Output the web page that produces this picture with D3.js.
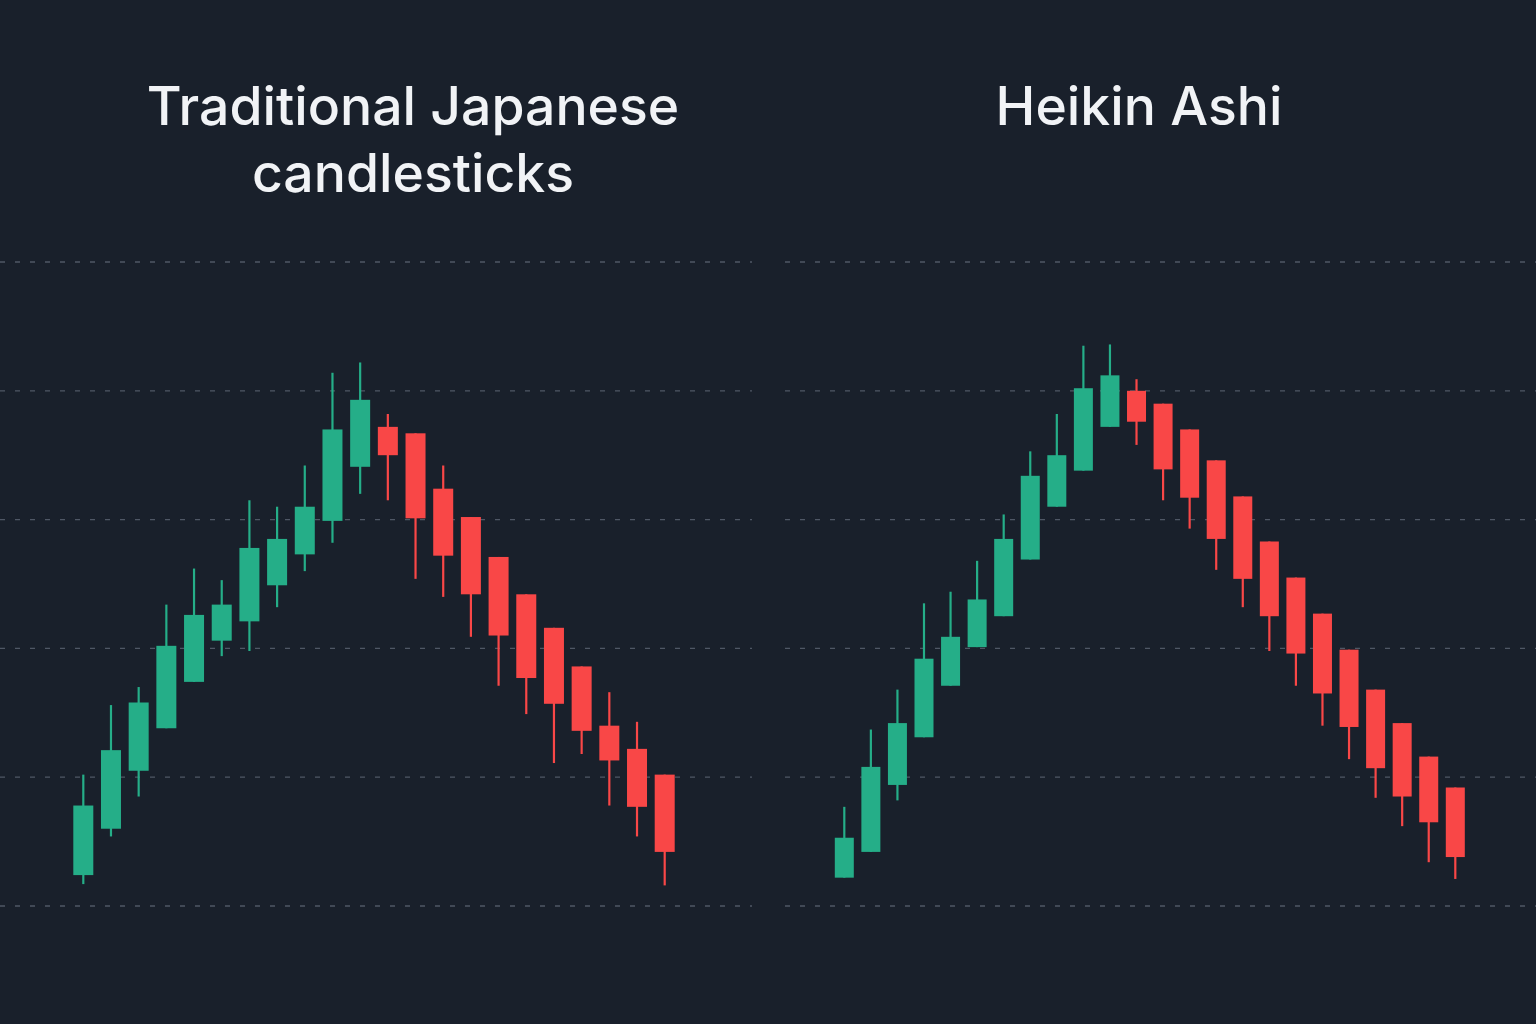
<!DOCTYPE html>
<html lang="en">
<head>
    <meta charset="UTF-8">
    <title>Traditional vs Heikin Ashi</title>
    <style>
        body {
            margin: 0;
            background: #19202b;
        }
        svg {
            display: block;
        }
        .title {
            font-family: Inter, "Noto Sans", sans-serif;
            font-size: 53.5px;
            font-weight: 500;
            fill: #f1f3f6;
        }
    </style>
</head>
<body>
<div id="chart"></div>

<script src="https://cdn.jsdelivr.net/npm/d3@7"></script>
<script>
    // price levels for the dashed grid
    const gridLevels = [100, 110, 120, 130, 140, 150];

    // traditional candles
    const tradOpen  = [102.4, 106.0, 110.5, 113.8, 117.4, 120.6, 122.1, 124.9, 127.3, 129.9, 134.1,
                       137.2, 136.7, 132.4, 130.2, 127.1, 124.2, 121.6, 118.6, 114.0, 112.2, 110.2];
    const tradHigh  = [110.2, 115.6, 117.0, 123.4, 126.2, 125.3, 131.5, 131.0, 134.2, 141.4, 142.2,
                       138.2, 136.7, 134.2, 130.2, 127.1, 124.2, 121.6, 118.6, 116.6, 114.3, 110.2];
    const tradLow   = [101.7, 105.4, 108.5, 113.8, 117.4, 119.4, 119.8, 123.2, 126.0, 128.2, 132.0,
                       131.5, 125.4, 124.0, 120.9, 117.1, 114.9, 111.1, 111.8, 107.8, 105.4, 101.6];
    const tradClose = [107.8, 112.1, 115.8, 120.2, 122.6, 123.4, 127.8, 128.5, 131.0, 137.0, 139.3,
                       135.0, 130.1, 127.2, 124.2, 121.0, 117.7, 115.7, 113.6, 111.3, 107.7, 104.2];

    // heikin ashi candles
    const haOpen  = [102.2, 104.2, 109.4, 113.1, 117.1, 120.1, 122.5, 126.9, 131.0, 133.8, 137.2,
                     140.0, 139.0, 137.0, 134.6, 131.8, 128.3, 125.5, 122.7, 119.9, 116.8, 114.2, 111.6, 109.2];
    const haHigh  = [107.7, 113.7, 116.8, 123.5, 124.4, 126.8, 130.4, 135.3, 138.2, 143.5, 143.6,
                     140.9, 139.0, 137.0, 134.6, 131.8, 128.3, 125.5, 122.7, 119.9, 116.8, 114.2, 111.6, 109.2];
    const haLow   = [102.2, 104.2, 108.2, 113.1, 117.1, 120.1, 122.5, 126.9, 131.0, 133.8, 137.2,
                     135.8, 131.5, 129.3, 126.1, 123.2, 119.8, 117.1, 114.0, 111.4, 108.4, 106.2, 103.4, 102.1];
    const haClose = [105.3, 110.8, 114.2, 119.2, 120.9, 123.8, 128.5, 133.4, 135.0, 140.2, 141.2,
                     137.6, 133.9, 131.7, 128.5, 125.4, 122.5, 119.6, 116.5, 113.9, 110.7, 108.5, 106.5, 103.8];

    const titles = [["Traditional Japanese", "candlesticks"], ["Heikin Ashi"]];

    const W = 1536, H = 1024;
    const up = "#25ae88", down = "#f94747";

    const svg = d3.select("#chart").append("svg")
        .attr("width", W)
        .attr("height", H);

    svg.append("rect").attr("width", W).attr("height", H).attr("fill", "#19202b");

    const y = d3.scaleLinear().domain([100, 150]).range([906, 262]);

    const panels = [
        { open: tradOpen, high: tradHigh, low: tradLow, close: tradClose,
          gridX: [0, 752], candleX: [83.3, 664.7], bodyW: 20, titleX: 413, title: titles[0] },
        { open: haOpen, high: haHigh, low: haLow, close: haClose,
          gridX: [785, 1536], candleX: [844.3, 1455.3], bodyW: 19, titleX: 1139, title: titles[1] }
    ];

    panels.forEach(p => {
        const g = svg.append("g");

        // dashed grid
        g.selectAll("line.grid")
            .data(gridLevels)
            .join("line")
            .attr("class", "grid")
            .attr("x1", p.gridX[0])
            .attr("x2", p.gridX[1])
            .attr("y1", d => y(d))
            .attr("y2", d => y(d))
            .attr("stroke", "#4f5765")
            .attr("stroke-width", 1.3)
            .attr("stroke-dasharray", "5,10");

        const candles = p.open.map((o, i) => ({
            i, open: o, high: p.high[i], low: p.low[i], close: p.close[i]
        }));

        const x = d3.scaleLinear().domain([0, candles.length - 1]).range(p.candleX);
        const col = d => d.close >= d.open ? up : down;

        g.selectAll("line.wick")
            .data(candles)
            .join("line")
            .attr("class", "wick")
            .attr("x1", d => x(d.i))
            .attr("x2", d => x(d.i))
            .attr("y1", d => y(d.high))
            .attr("y2", d => y(d.low))
            .attr("stroke", col)
            .attr("stroke-width", 2.2);

        g.selectAll("rect.body")
            .data(candles)
            .join("rect")
            .attr("class", "body")
            .attr("x", d => x(d.i) - p.bodyW / 2)
            .attr("width", p.bodyW)
            .attr("y", d => y(Math.max(d.open, d.close)))
            .attr("height", d => Math.abs(y(d.open) - y(d.close)))
            .attr("fill", col);

        // title
        const t = svg.append("text")
            .attr("class", "title")
            .attr("text-anchor", "middle")
            .attr("x", p.titleX)
            .attr("y", 125);
        p.title.forEach((line, k) => {
            t.append("tspan")
                .attr("x", p.titleX)
                .attr("dy", k === 0 ? 0 : 67)
                .text(line);
        });
    });
</script>
</body>
</html>
